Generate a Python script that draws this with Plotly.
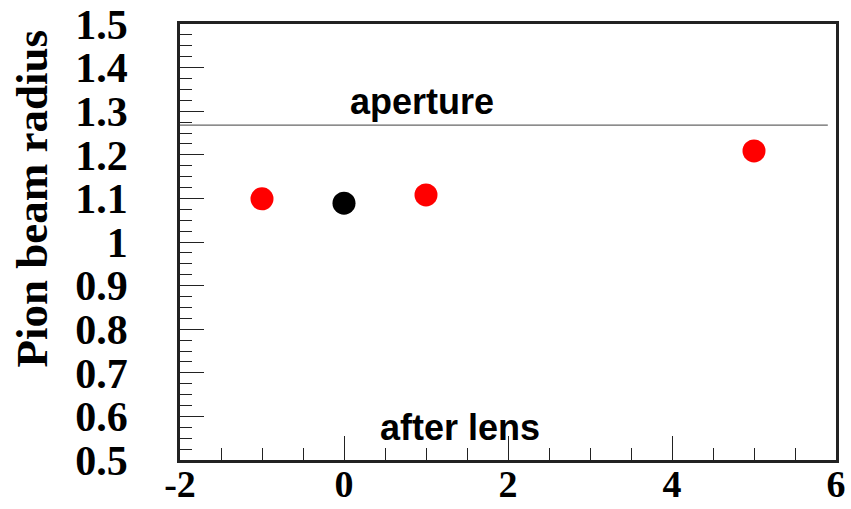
import plotly.graph_objects as go

# data
red_x = [-1, 1, 5]
red_y = [1.099, 1.108, 1.209]
black_x = [0]
black_y = [1.089]
aperture_x = [-2, 5.9]
aperture_y = [1.268, 1.268]
x_tickvals = [-2, 0, 2, 4, 6]
x_ticktext = ["-2", "0", "2", "4", "6"]
y_tickvals = [0.5, 0.6, 0.7, 0.8, 0.9, 1.0, 1.1, 1.2, 1.3, 1.4, 1.5]
y_ticktext = ["0.5", "0.6", "0.7", "0.8", "0.9", "1", "1.1", "1.2", "1.3", "1.4", "1.5"]
y_title = "Pion beam radius"
label_top = "aperture"
label_bottom = "after lens"

fig = go.Figure()
fig.add_trace(go.Scatter(x=aperture_x, y=aperture_y, mode="lines",
                         line=dict(color="#666666", width=1.3), showlegend=False, hoverinfo="skip"))
fig.add_trace(go.Scatter(x=red_x, y=red_y, mode="markers",
                         marker=dict(color="#ff0000", size=23, line=dict(width=0)), showlegend=False))
fig.add_trace(go.Scatter(x=black_x, y=black_y, mode="markers",
                         marker=dict(color="#000000", size=23, line=dict(width=0)), showlegend=False))

fig.add_annotation(x=0.95, y=1.323, xref="x", yref="y", text=label_top, showarrow=False,
                   font=dict(family="Liberation Sans", size=36, weight="bold", color="black"))
fig.add_annotation(x=1.415, y=0.574, xref="x", yref="y", text=label_bottom, showarrow=False,
                   font=dict(family="Liberation Sans", size=36, weight="bold", color="black"))
# y-axis title (placed toward the top, as in the reference)
fig.add_annotation(x=-0.226, y=0.599, xref="paper", yref="paper", text=y_title, showarrow=False,
                   textangle=-90, xanchor="center", yanchor="middle",
                   font=dict(family="Liberation Serif", size=45, weight="bold", color="black"))

ytickfont = dict(family="Liberation Serif", size=42, weight="bold", color="black")
xtickfont = dict(family="Liberation Serif", size=38, weight="bold", color="black")
fig.update_xaxes(range=[-2, 6], tickmode="array", tickvals=x_tickvals, ticktext=x_ticktext,
                 ticks="inside", ticklen=24, tickwidth=1.2, automargin=False,
                 tickcolor="#222", showline=True, linewidth=2.5, linecolor="#222", mirror=True,
                 showgrid=False, zeroline=False, tickfont=xtickfont, ticklabelstandoff=-11,
                 minor=dict(dtick=0.5, tick0=0, ticks="inside", ticklen=12, tickwidth=1.2, tickcolor="#222", showgrid=False))
fig.update_yaxes(range=[0.5, 1.5], tickmode="array", tickvals=y_tickvals, ticktext=y_ticktext,
                 ticks="inside", ticklen=24, tickwidth=1.2, automargin=False,
                 tickcolor="#222", showline=True, linewidth=2.5, linecolor="#222", mirror=True,
                 showgrid=False, zeroline=False, tickfont=ytickfont, ticklabelstandoff=41,
                 minor=dict(dtick=0.025, tick0=0.5, ticks="inside", ticklen=12, tickwidth=1.2, tickcolor="#222", showgrid=False))

fig.update_layout(width=851, height=509, margin=dict(l=180, r=15, t=24, b=49),
                  paper_bgcolor="white", plot_bgcolor="white")
fig.write_html("out.html")
